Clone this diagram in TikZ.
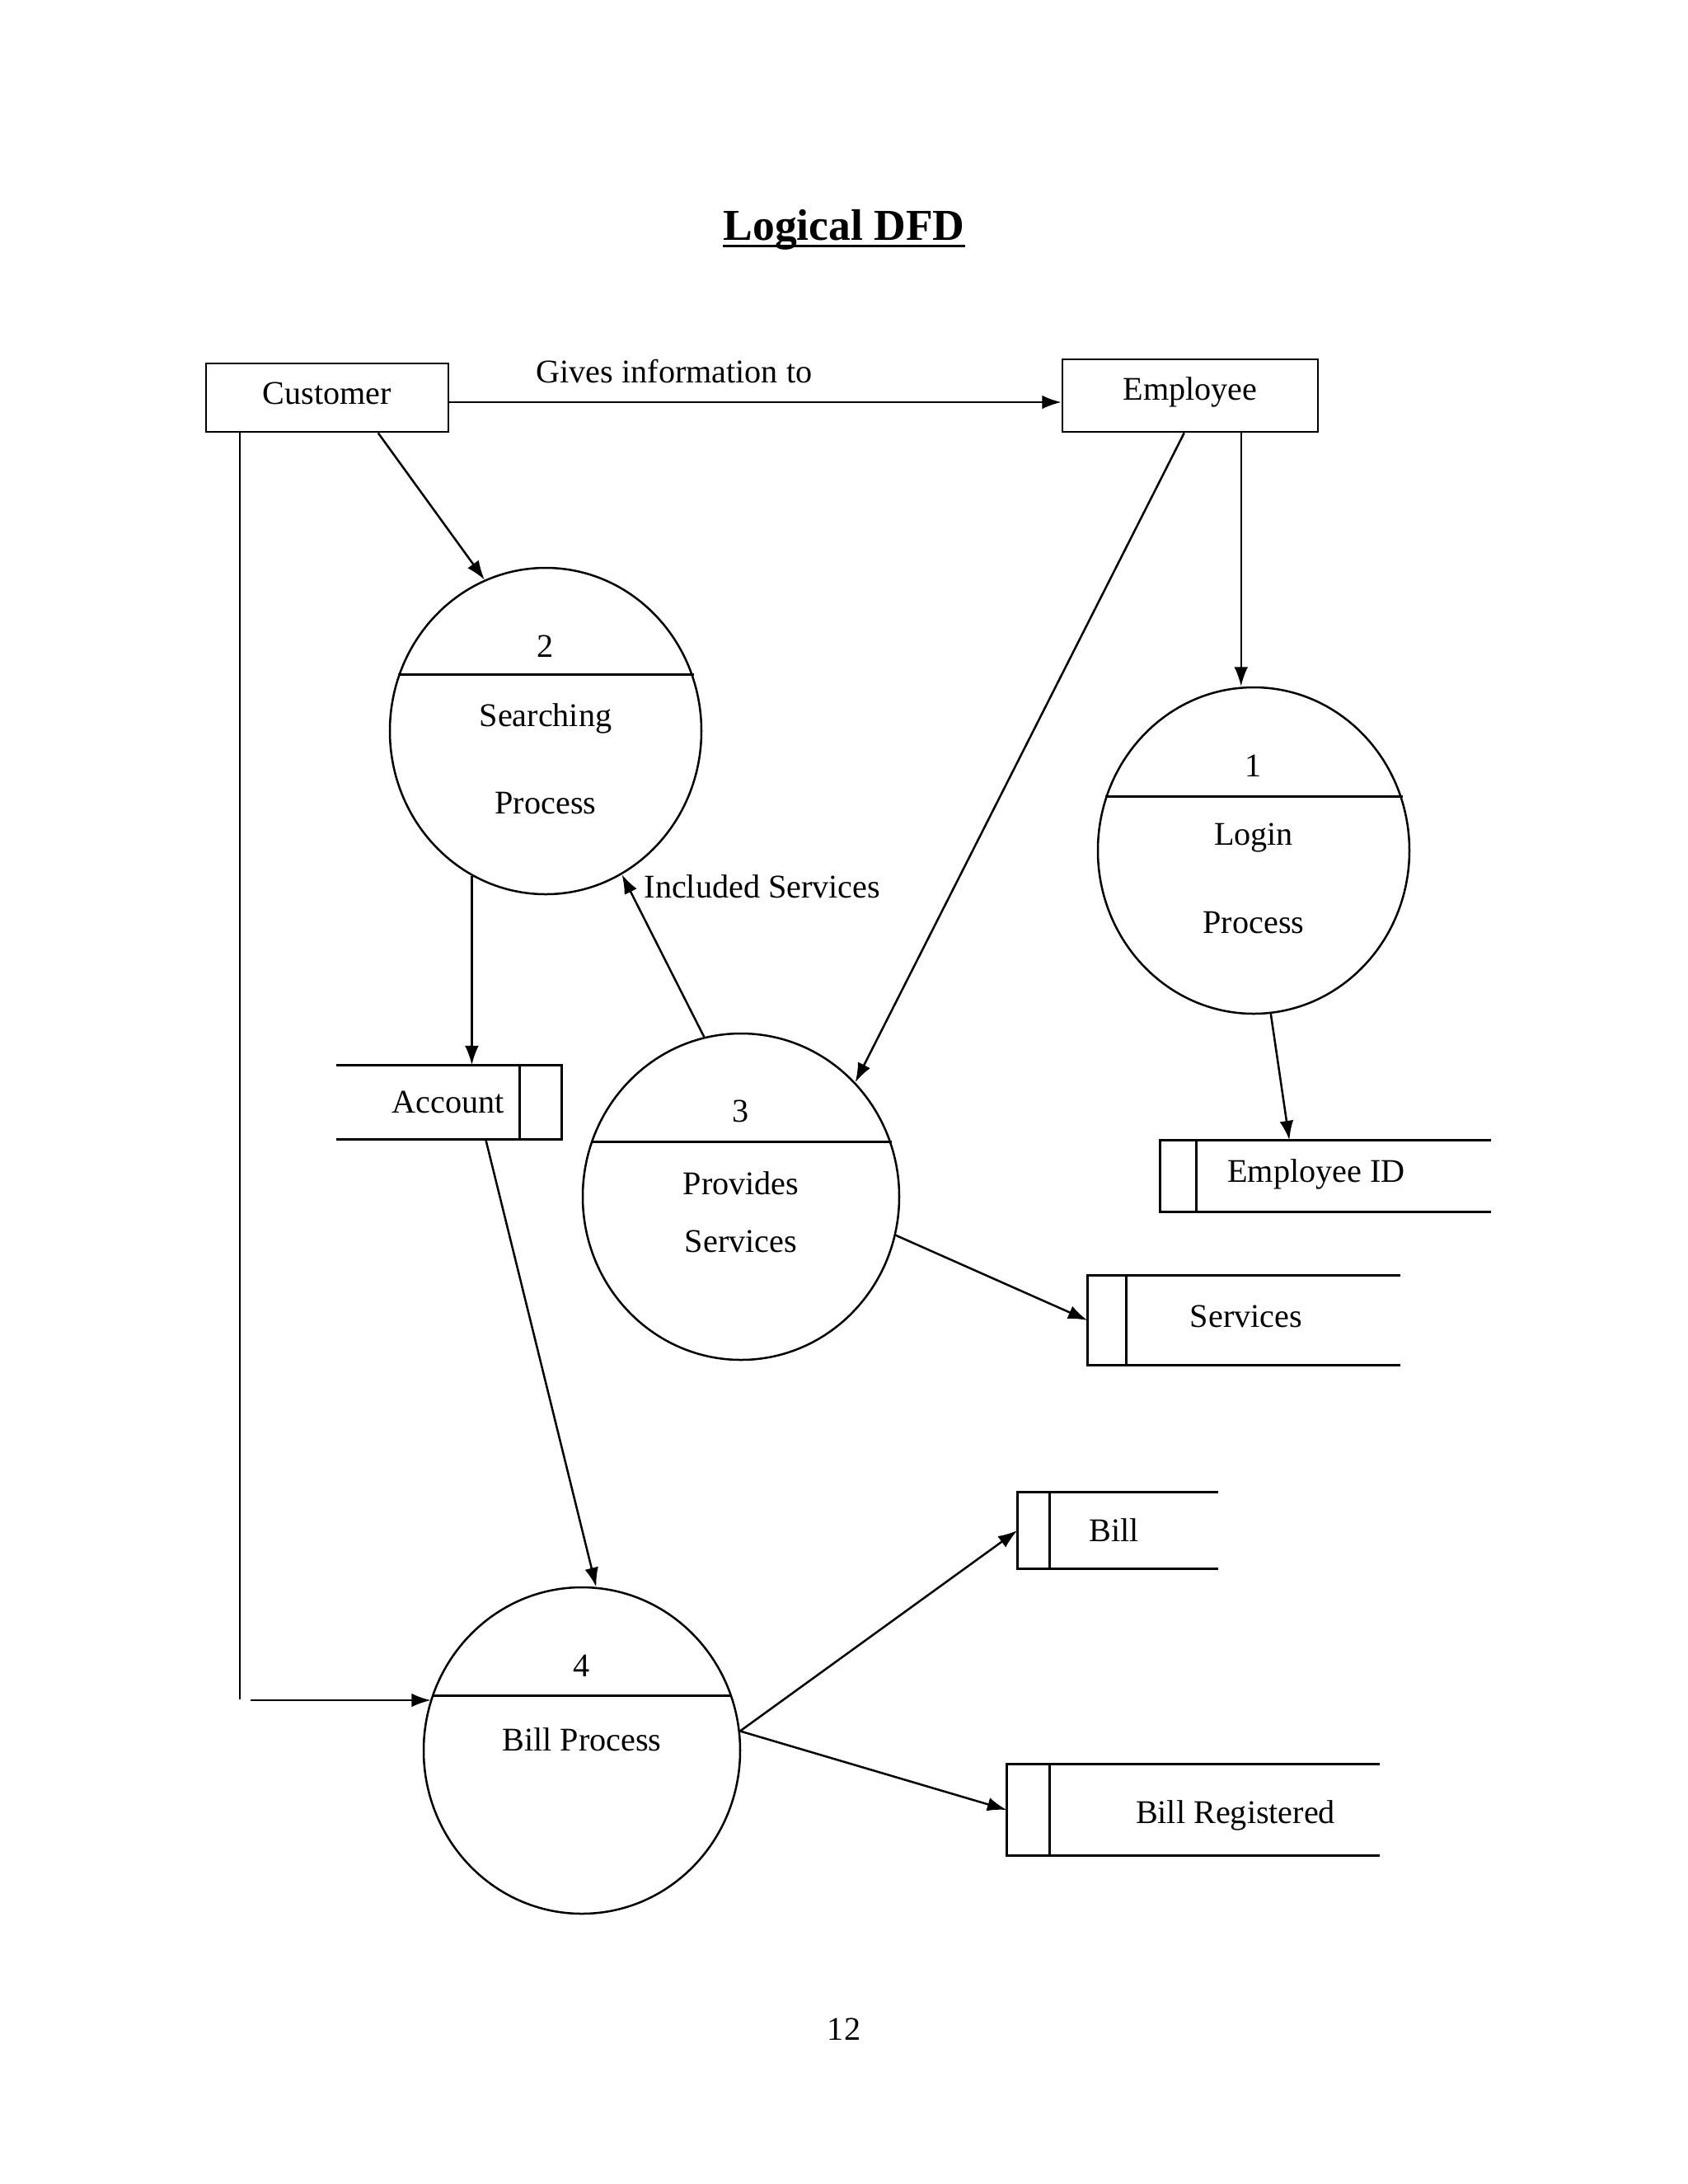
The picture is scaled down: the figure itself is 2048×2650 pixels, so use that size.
\documentclass[tikz,border=0pt]{standalone}
\usepackage{fontspec}
\setmainfont{Liberation Serif}
\usetikzlibrary{shapes.geometric,arrows.meta,calc}
\newdimen\pxlen \pxlen=0.29883pt
\begin{document}
\begin{tikzpicture}[x=\pxlen, y=-\pxlen,
  font=\fontsize{12}{14}\selectfont,
  lw/.style={line width=0.75pt},
  flow/.style={line width=0.75pt, -{Latex[length=7pt,width=5pt]}},
  ent/.style={draw, line width=0.75pt, inner sep=0},
  proc/.style={ellipse, draw, line width=0.75pt, inner sep=0},
  store/.style={inner sep=0},
  lbl/.style={inner sep=0}]
\fill[white] (0,0) rectangle (2048,2650);
\useasboundingbox (0,0) rectangle (2048,2650);

% title
\node[lbl, anchor=base, font=\fontsize{16}{19}\selectfont\bfseries] (title) at (1024,291) {Logical DFD};
\draw[line width=0.9pt] ($(title.base west)+(0,7)$) -- ($(title.base east)+(0,7)$);

% external entities
\node[ent, minimum width=294\pxlen, minimum height=83\pxlen, text depth=3pt] (cust) at (397,482.5) {Customer};
\node[ent, minimum width=310\pxlen, minimum height=88\pxlen, text depth=5pt] (emp) at (1444,480) {Employee};
\coordinate (y488) at (0,488);
\draw[flow] (cust.east |- y488) -- (emp.west |- y488);
\node[lbl] (gives) at (818,451) {Gives information to};

% processes
\node[proc, minimum width=378\pxlen, minimum height=396\pxlen] (c2) at (662,887) {};
\node[proc, minimum width=378\pxlen, minimum height=396\pxlen] (c1) at (1521,1032) {};
\node[proc, minimum width=384\pxlen, minimum height=396\pxlen] (c3) at (899,1452) {};
\node[proc, minimum width=384\pxlen, minimum height=396\pxlen] (c4) at (706,2124) {};
\draw[lw] (c2.159.4) -- (c2.159.4 -| c2.20.6);
\draw[lw] (c1.160.3) -- (c1.160.3 -| c1.19.7);
\draw[lw] (c3.160.2) -- (c3.160.2 -| c3.19.8);
\draw[lw] (c4.160) -- (c4.160 -| c4.20);

\node[lbl] (n2) at (662,784) {2};
\node[lbl] (s2a) at (662,872) {Searching};
\node[lbl] (s2b) at (662,975) {Process};
\node[lbl] (n1) at (1521,929) {1};
\node[lbl] (l1a) at (1521,1017) {Login};
\node[lbl] (l1b) at (1521,1120) {Process};
\node[lbl] (n3) at (899,1348) {3};
\node[lbl] (p3a) at (899,1436) {Provides};
\node[lbl] (p3b) at (899,1506) {Services};
\node[lbl] (n4) at (706,2021) {4};
\node[lbl] (b4) at (706,2111) {Bill Process};

% data stores
\node[store, minimum width=272\pxlen, minimum height=89\pxlen] (acc) at (545,1337.5) {};
\draw[lw] (acc.north west) -- (acc.north east) -- (acc.south east) -- (acc.south west);
\draw[lw] ($(acc.north east)+(-51,0)$) -- ($(acc.south east)+(-51,0)$);
\node[lbl] (acct) at (544,1337) {Account};

\node[store, minimum width=400\pxlen, minimum height=86\pxlen] (empid) at (1608,1427) {};
\draw[lw] (empid.north east) -- (empid.north west) -- (empid.south west) -- (empid.south east);
\draw[lw] ($(empid.north west)+(44,0)$) -- ($(empid.south west)+(44,0)$);
\node[lbl] (empidt) at (1597,1425) {Employee ID};

\node[store, minimum width=378\pxlen, minimum height=108\pxlen] (serv) at (1509,1602) {};
\draw[lw] (serv.north east) -- (serv.north west) -- (serv.south west) -- (serv.south east);
\draw[lw] ($(serv.north west)+(47,0)$) -- ($(serv.south west)+(47,0)$);
\node[lbl] (servt) at (1512,1597) {Services};

\node[store, minimum width=242\pxlen, minimum height=92\pxlen] (bill) at (1356,1857) {};
\draw[lw] (bill.north east) -- (bill.north west) -- (bill.south west) -- (bill.south east);
\draw[lw] ($(bill.north west)+(39,0)$) -- ($(bill.south west)+(39,0)$);
\node[lbl] (billt) at (1352,1857) {Bill};

\node[store, minimum width=451\pxlen, minimum height=110\pxlen] (breg) at (1447.5,2196) {};
\draw[lw] (breg.north east) -- (breg.north west) -- (breg.south west) -- (breg.south east);
\draw[lw] ($(breg.north west)+(52,0)$) -- ($(breg.south west)+(52,0)$);
\node[lbl] (bregt) at (1499,2203) {Bill Registered};

% connectors
\draw[flow] ($(cust.south west)+(210,0)$) -- (c2.112);
\coordinate (cbot) at (291,2062);
\coordinate (cin) at (304,2063);
\draw[lw] (cbot |- cust.south) -- (cbot);
\draw[flow] (cin) -- (cin -| c4.161.5);

\draw[flow] ($(emp.south west)+(149,0)$) -- (c3.45);
\coordinate (e1s) at ($(emp.south west)+(218,0)$);
\draw[flow] (e1s) -- (e1s |- c1.north);

\coordinate (c2s) at (c2.243);
\draw[flow] (c2s) -- (c2s |- acc.north);

\draw[flow] (c3.103) -- (c2.298);
\node[lbl, anchor=west] (incl) at (781,1076) {Included Services};

\draw[flow] (c1.276) -- ($(empid.north west)+(157,0)$);
\draw[flow] (c3.346) -- (serv.west);
\draw[flow] ($(acc.south west)+(181,0)$) -- (c4.85);
\draw[flow] (c4.7.5) -- (bill.west);
\draw[flow] (c4.7.5) -- (breg.west);

% page number
\node[lbl] (pg) at (1024,2462) {12};
\end{tikzpicture}
\end{document}
